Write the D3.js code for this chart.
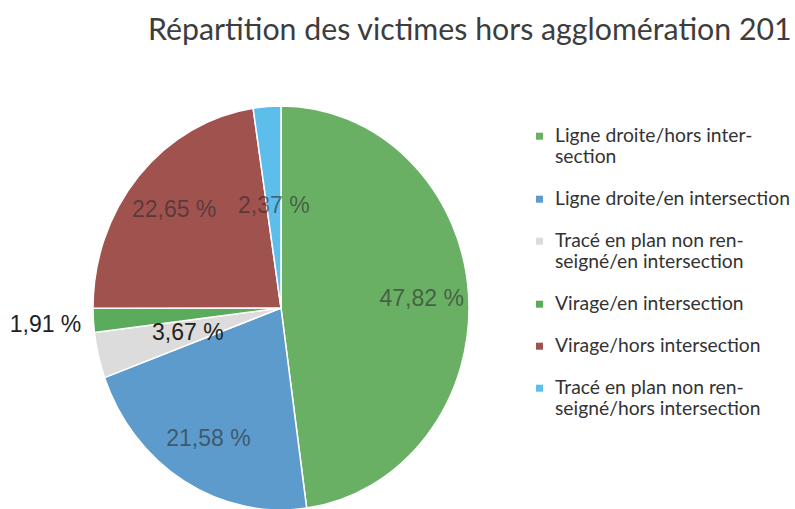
<!DOCTYPE html>
<html><head><meta charset="utf-8">
<script src="https://cdn.jsdelivr.net/npm/d3@7"></script>
<style>html,body{margin:0;padding:0;background:#fff;overflow:hidden}</style>
</head><body><svg id="c" width="795" height="509"></svg>
<script>
const title = "Répartition des victimes hors agglomération 201";
const categories = [
  "Ligne droite/hors intersection",
  "Ligne droite/en intersection",
  "Tracé en plan non renseigné/en intersection",
  "Virage/en intersection",
  "Virage/hors intersection",
  "Tracé en plan non renseigné/hors intersection"
];
const legendLines = [
  ["Ligne droite/hors inter-", "section"],
  ["Ligne droite/en intersection"],
  ["Tracé en plan non ren-", "seigné/en intersection"],
  ["Virage/en intersection"],
  ["Virage/hors intersection"],
  ["Tracé en plan non ren-", "seigné/hors intersection"]
];
const values = [47.82, 21.58, 3.67, 1.91, 22.65, 2.37];
const colors = ["#69b064", "#5c9bcc", "#dcdcdc", "#5aab5b", "#a0524f", "#5dbdeb"];

const svg = d3.select("#c");
const W = 795, H = 509;
svg.append("rect").attr("width", W).attr("height", H).attr("fill", "#fff");

const fr = d3.formatLocale({decimal: ",", thousands: " ", grouping: [3], currency: ["", " €"]});
const fmt = v => fr.format(".2f")(v) + " %";

// Title (fit to the available width)
const titleFont = "Lato, 'Open Sans', sans-serif";
const tmp = svg.append("text").attr("font-family", titleFont).attr("font-size", 28).text(title);
const tw = tmp.node().getComputedTextLength();
tmp.remove();
const titleSize = 28 * 644 / tw;
svg.append("text").attr("x", 148).attr("y", 39.5)
  .attr("font-family", titleFont).attr("font-size", titleSize)
  .attr("fill", "#3d3d3d").text(title);

// Pie
const cx = 281, cy = 308, R = 188, ky = 202 / 188;
const pie = d3.pie().sort(null).value(d => d)(values);
const arc = d3.arc().innerRadius(0).outerRadius(R);
const g = svg.append("g").attr("transform", `translate(${cx},${cy}) scale(1,${ky})`);
g.selectAll("path").data(pie).join("path")
  .attr("d", arc)
  .attr("fill", (d, i) => colors[i])
  .attr("stroke", "#fff").attr("stroke-width", 1.5)
  .attr("vector-effect", "non-scaling-stroke");

const labelR = v => v < 2 ? R * 1.255 : (v < 5 ? R * 0.51 : R * 0.75);
const lg = svg.append("g").attr("transform", `translate(${cx},${cy})`);
lg.selectAll("text").data(pie).join("text")
  .each(function(d, i) {
    const r = labelR(d.value);
    const c = d3.arc().innerRadius(r).outerRadius(r).centroid(d);
    const outside = d.value < 2;
    const light = d3.hsl(colors[i]).l > 0.7;
    d3.select(this)
      .attr("x", c[0]).attr("y", c[1] * ky)
      .attr("dy", "0.35em")
      .attr("text-anchor", "middle")
      .attr("font-family", "'Liberation Sans', Arial, sans-serif")
      .attr("font-size", 23)
      .attr("fill", outside || light ? "#222" : "#2b2b2b")
      .attr("fill-opacity", outside || light ? 1 : 0.6)
      .text(fmt(d.value));
  });

// Legend
const legFont = "Lato, 'Open Sans', sans-serif";
const tmp2 = svg.append("text").attr("font-family", legFont).attr("font-size", 20)
  .text("Ligne droite/en intersection");
const lw = tmp2.node().getComputedTextLength();
tmp2.remove();
const legSize = 20 * 235 / lw;
const lx = 536, tx = 555, y0 = 141.7, gap = 42, lh = 21;
let yy = y0;
const leg = svg.append("g");
categories.forEach((cat, i) => {
  const item = leg.append("g").attr("class", "legend-item").attr("data-category", cat);
  item.append("rect").attr("x", lx).attr("y", yy - 9).attr("width", 7).attr("height", 7)
    .attr("fill", colors[i]);
  const t = item.append("text").attr("font-family", legFont).attr("font-size", legSize)
    .attr("fill", "#333");
  legendLines[i].forEach((ln, j) => {
    t.append("tspan").attr("x", tx).attr("y", yy + j * lh).text(ln);
  });
  yy += gap + lh * (legendLines[i].length - 1);
});
</script>
</body></html>
